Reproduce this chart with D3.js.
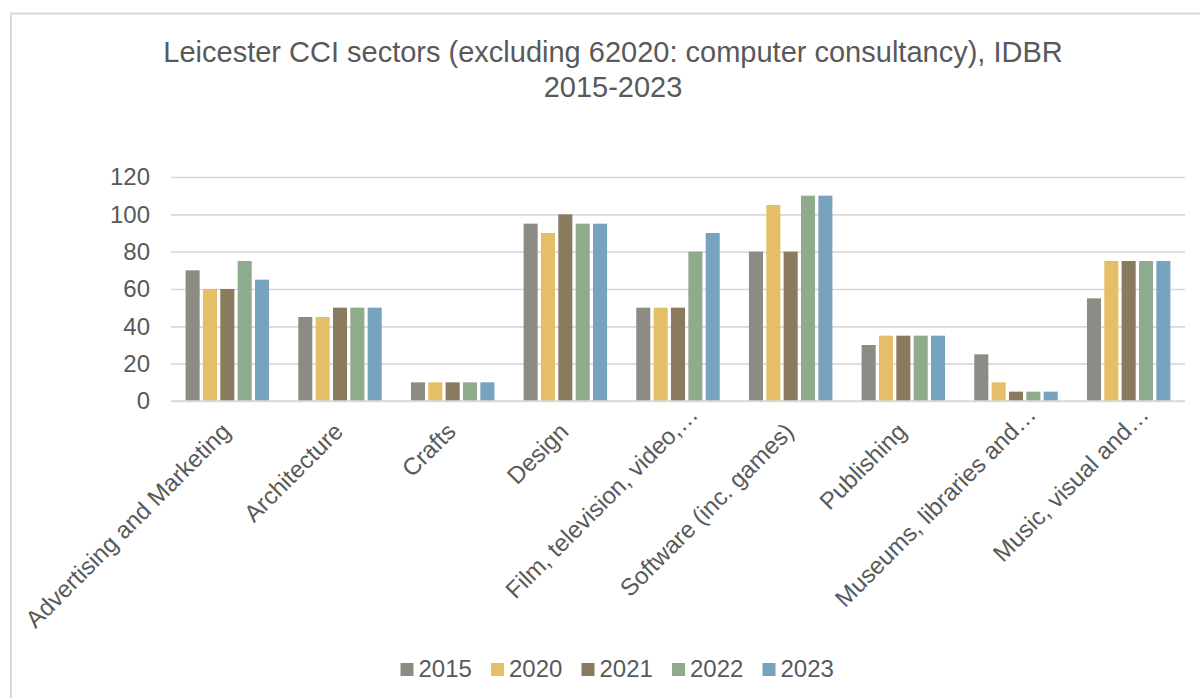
<!DOCTYPE html>
<html>
<head>
<meta charset="utf-8">
<script src="https://cdn.jsdelivr.net/npm/d3@7"></script>
<style>
  html, body { margin: 0; padding: 0; background: #ffffff; }
  svg { display: block; font-family: "Liberation Sans", Arial, sans-serif; }
</style>
</head>
<body>
<svg id="chart" width="1200" height="698"></svg>
<script>
// Sector categories (x axis)
const categories = [
  "Advertising and Marketing",
  "Architecture",
  "Crafts",
  "Design",
  "Film, television, video,…",
  "Software (inc. games)",
  "Publishing",
  "Museums, libraries and…",
  "Music, visual and…"
];

// Series (legend order)
const years = ["2015", "2020", "2021", "2022", "2023"];

// Business counts per sector, one array per year
const values2015 = [70, 45, 10, 95, 50, 80, 30, 25, 55];
const values2020 = [60, 45, 10, 90, 50, 105, 35, 10, 75];
const values2021 = [60, 50, 10, 100, 50, 80, 35, 5, 75];
const values2022 = [75, 50, 10, 95, 80, 110, 35, 5, 75];
const values2023 = [65, 50, 10, 95, 90, 110, 35, 5, 75];

// Y axis ticks
const yTicks = [0, 20, 40, 60, 80, 100, 120];

const titleLines = [
  "Leicester CCI sectors (excluding 62020: computer consultancy), IDBR",
  "2015-2023"
];

const seriesColors = ["#8d8c84", "#e5bf68", "#8a7a5e", "#8eab8c", "#77a3be"];

const series = years.map((y, i) => ({
  year: y,
  values: [values2015, values2020, values2021, values2022, values2023][i]
}));

const svg = d3.select("#chart");
const textColor = "#595959";
const gridColor = "#d9d9d9";

// Chart frame
svg.append("rect")
  .attr("x", 11).attr("y", 13.5)
  .attr("width", 1210).attr("height", 720)
  .attr("fill", "#ffffff")
  .attr("stroke", gridColor)
  .attr("stroke-width", 2);

// Title
svg.append("g").selectAll("text")
  .data(titleLines)
  .join("text")
  .attr("x", 613)
  .attr("y", (d, i) => 62 + i * 35)
  .attr("text-anchor", "middle")
  .attr("font-size", 29)
  .attr("fill", textColor)
  .text(d => d);

// Plot area
const plot = { left: 171, right: 1185, top: 177, bottom: 401 };

const y = d3.scaleLinear()
  .domain([0, 120])
  .range([plot.bottom, plot.top]);

const x0 = d3.scaleBand()
  .domain(categories)
  .range([plot.left, plot.right])
  .paddingInner(0.23)
  .paddingOuter(0.115);

const x1 = d3.scaleBand()
  .domain(years)
  .range([0, x0.bandwidth()])
  .paddingInner(0.19)
  .paddingOuter(0.095);

const color = d3.scaleOrdinal().domain(years).range(seriesColors);

// Gridlines and tick labels
const yAxis = d3.axisLeft(y)
  .tickValues(yTicks)
  .tickSize(-(plot.right - plot.left))
  .tickPadding(21)
  .tickFormat(d3.format("d"));

const yAxisG = svg.append("g")
  .attr("transform", `translate(${plot.left},0)`)
  .call(yAxis);
yAxisG.select(".domain").remove();
yAxisG.selectAll(".tick line")
  .attr("stroke", gridColor)
  .attr("stroke-width", 1.6);
yAxisG.selectAll(".tick text")
  .attr("font-size", 24)
  .attr("font-family", "Liberation Sans, Arial, sans-serif")
  .attr("fill", textColor);

// Bars
const groups = svg.append("g")
  .selectAll("g")
  .data(series)
  .join("g")
  .attr("fill", d => color(d.year));

groups.selectAll("rect")
  .data(d => d.values.map((v, i) => ({ year: d.year, cat: categories[i], value: v })))
  .join("rect")
  .attr("x", d => x0(d.cat) + x1(d.year))
  .attr("y", d => y(d.value))
  .attr("width", x1.bandwidth())
  .attr("height", d => y(0) - y(d.value));

// Category axis line
svg.append("line")
  .attr("x1", plot.left).attr("x2", plot.right)
  .attr("y1", y(0)).attr("y2", y(0))
  .attr("stroke", gridColor)
  .attr("stroke-width", 1.6);

// Rotated category labels; the trailing ellipsis runs past the anchor point
const labelG = svg.append("g")
  .selectAll("g")
  .data(categories)
  .join("g")
  .attr("transform", d => `translate(${x0(d) + x0.bandwidth() / 2 + 4.5},433) rotate(-45)`);

labelG.append("text")
  .attr("text-anchor", "end")
  .attr("font-size", 24)
  .attr("fill", textColor)
  .text(d => d.replace("…", ""));

labelG.filter(d => d.endsWith("…"))
  .append("text")
  .attr("text-anchor", "start")
  .attr("font-size", 24)
  .attr("fill", textColor)
  .text("…");

// Legend
const legend = svg.append("g")
  .selectAll("g")
  .data(years)
  .join("g")
  .attr("transform", (d, i) => `translate(${400.5 + i * 90.5},663)`);

legend.append("rect")
  .attr("width", 13).attr("height", 13)
  .attr("fill", d => color(d));

legend.append("text")
  .attr("x", 18)
  .attr("y", 14)
  .attr("font-size", 24)
  .attr("fill", textColor)
  .text(d => d);
</script>
</body>
</html>
